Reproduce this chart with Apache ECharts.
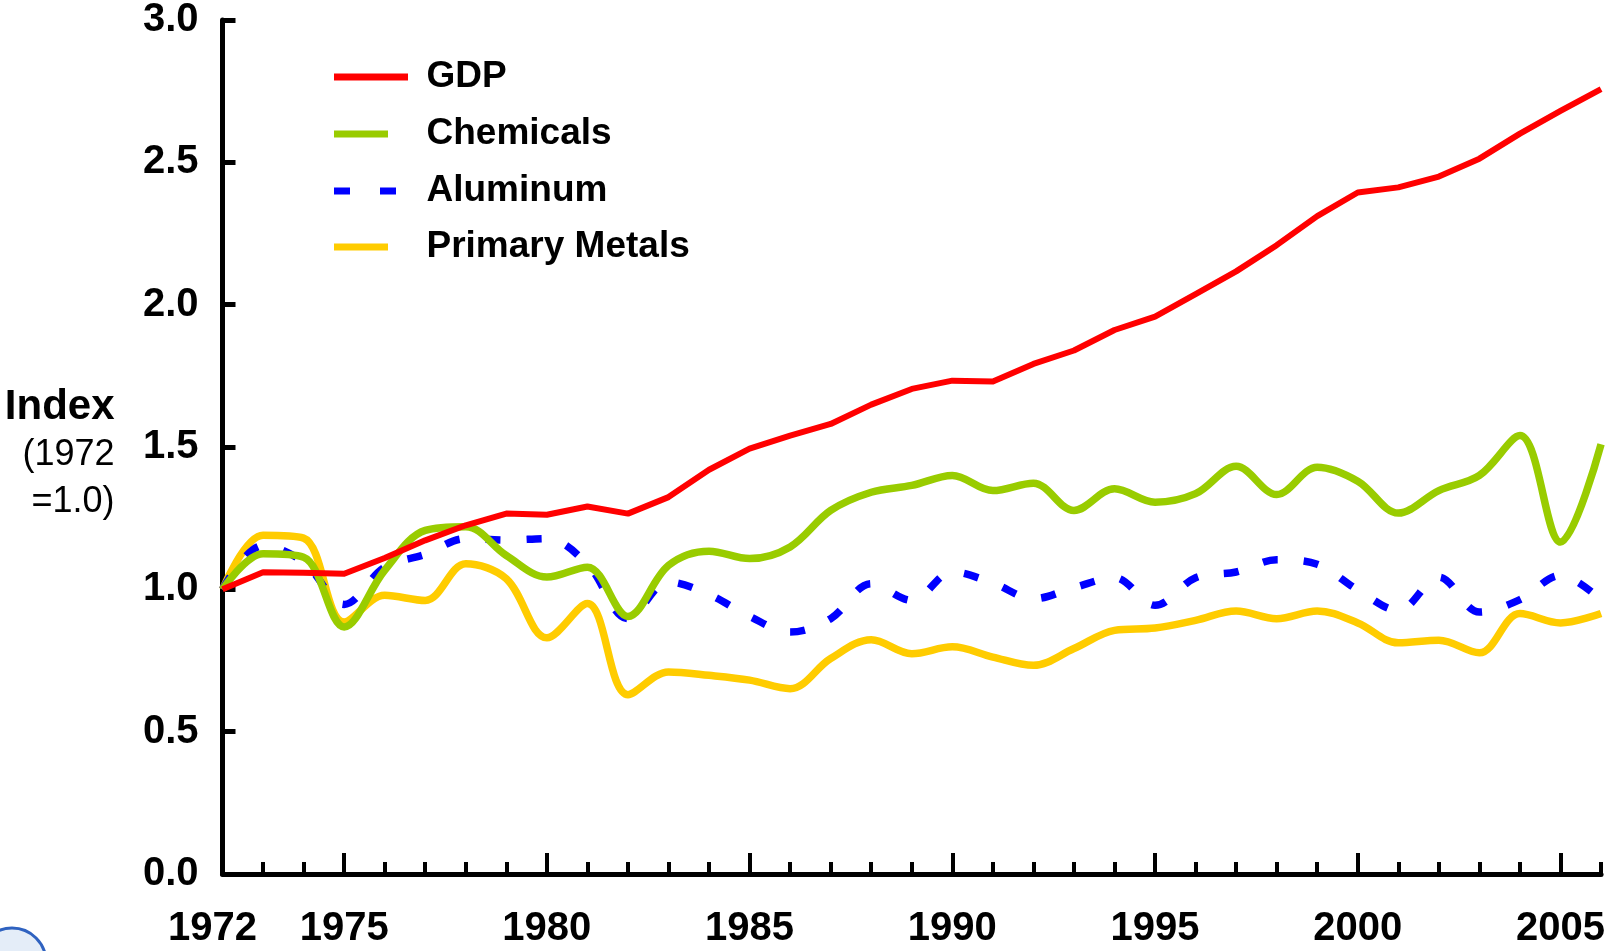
<!DOCTYPE html>
<html>
<head>
<meta charset="utf-8">
<script src="https://cdn.jsdelivr.net/npm/echarts@6/dist/echarts.min.js"></script>
<style>
  html, body { margin: 0; padding: 0; background: #fff; }
  #chart { width: 1608px; height: 951px; }
</style>
</head>
<body>
<div id="chart"></div>
<script>
// ---- data ----
const years = [1972,1973,1974,1975,1976,1977,1978,1979,1980,1981,1982,1983,1984,1985,1986,1987,1988,1989,1990,1991,1992,1993,1994,1995,1996,1997,1998,1999,2000,2001,2002,2003,2004,2005,2006];
const gdp = [1.00,1.06,1.058,1.055,1.11,1.172,1.225,1.266,1.262,1.291,1.266,1.324,1.42,1.494,1.54,1.581,1.649,1.704,1.733,1.73,1.792,1.839,1.911,1.958,2.037,2.117,2.209,2.311,2.394,2.412,2.45,2.513,2.601,2.681,2.757];
const chemicals = [1.00,1.125,1.113,0.868,1.067,1.207,1.22,1.119,1.043,1.078,0.905,1.084,1.134,1.108,1.149,1.277,1.341,1.365,1.40,1.347,1.373,1.277,1.353,1.306,1.336,1.432,1.333,1.429,1.38,1.268,1.347,1.40,1.54,1.166,1.51];
const aluminum = [1.00,1.154,1.096,0.947,1.078,1.123,1.178,1.173,1.178,1.088,0.897,1.026,0.982,0.905,0.85,0.897,1.02,0.961,1.061,1.022,0.967,1.006,1.041,0.944,1.041,1.061,1.104,1.088,0.998,0.926,1.043,0.92,0.964,1.049,0.962];
const primaryMetals = [1.00,1.19,1.18,0.885,0.979,0.961,1.09,1.037,0.83,0.95,0.63,0.71,0.698,0.681,0.651,0.757,0.823,0.774,0.798,0.762,0.733,0.792,0.856,0.864,0.891,0.924,0.897,0.924,0.882,0.812,0.821,0.777,0.915,0.882,0.915];
const seriesNames = ['GDP', 'Chemicals', 'Aluminum', 'Primary Metals'];
const xLabelYears = [1972,1975,1980,1985,1990,1995,2000,2005];
const xMajorTickYears = [1975,1980,1985,1990,1995,2000,2005];

// ---- styling / layout ----
const FONT = '"Liberation Sans", Arial, sans-serif';
const colors = ['#FF0000', '#99CC00', '#0000FF', '#FFCC00'];
const lineWidths = [6, 7.5, 7.5, 7.5];
const lineTypes = ['solid', 'solid', [15, 26], 'solid'];
const smoothness = [false, 0.35, 0.35, 0.35];
const legendRowCenters = [77, 134, 191, 247];
const legendIconWidths = [74, 54, 62, 54];
const legendIcons = ['rect', 'rect', 'path://M0,0h16v7h-16z M46,0h16v7h-16z', 'rect'];
const legendLeft = 334, legendTextX = 426.5;

const seriesData = [gdp, chemicals, aluminum, primaryMetals];

const chart = echarts.init(document.getElementById('chart'), null, { renderer: 'canvas' });

const xLabelStyle = { fontSize: 40, fontWeight: 'bold', color: '#000', fontFamily: FONT };

const option = {
  animation: false,
  backgroundColor: '#fff',
  grid: { left: 222.5, right: 6.5, top: 18.5, bottom: 77, containLabel: false },
  legend: seriesNames.map((name, i) => ({
    data: [name],
    left: legendLeft,
    top: legendRowCenters[i] - 20,
    padding: 0,
    itemWidth: legendIconWidths[i],
    itemHeight: 7,
    icon: legendIcons[i],
    selectedMode: false,
    textStyle: {
      fontSize: 37, fontWeight: 'bold', color: '#000', fontFamily: FONT,
      lineHeight: 40,
      padding: [0, 0, 0, legendTextX - (legendLeft + legendIconWidths[i] + 5)]
    }
  })),
  xAxis: [{
    type: 'value', min: 1972, max: 2006, interval: 1,
    axisLine: { show: true, onZero: false, lineStyle: { color: '#000', width: 5 } },
    axisTick: { show: true, inside: true, length: 12, lineStyle: { color: '#000', width: 4 } },
    axisLabel: Object.assign({
      customValues: xLabelYears,
      formatter: v => (v === xLabelYears[0] ? '{first|' + v + '}' : String(v)),
      margin: 35,
      rich: { first: Object.assign({ padding: [0, 20, 0, 0] }, xLabelStyle) }
    }, xLabelStyle),
    splitLine: { show: false }
  }, {
    type: 'value', min: 1972, max: 2006, position: 'bottom',
    axisLine: { show: false },
    axisTick: { show: true, inside: true, length: 21, customValues: xMajorTickYears, lineStyle: { color: '#000', width: 4 } },
    axisLabel: { show: false },
    splitLine: { show: false }
  }],
  yAxis: {
    type: 'value', min: 0, max: 3, interval: 0.5,
    axisLine: { show: true, onZero: false, lineStyle: { color: '#000', width: 5 } },
    axisTick: { show: true, inside: true, length: 13, lineStyle: { color: '#000', width: 5 } },
    axisLabel: {
      formatter: v => v.toFixed(1),
      fontSize: 40, fontWeight: 'bold', color: '#000', fontFamily: FONT, margin: 24
    },
    splitLine: { show: false },
    name: '{a|Index}\n{b|(1972}\n{b|=1.0)}',
    nameLocation: 'middle',
    nameRotate: 0,
    nameGap: 108,
    nameTextStyle: {
      align: 'right',
      padding: [15, 0, 0, 0],
      rich: {
        a: { fontSize: 42, fontWeight: 'bold', color: '#000', fontFamily: FONT, lineHeight: 48, align: 'right' },
        b: { fontSize: 36, color: '#000', fontFamily: FONT, lineHeight: 47, align: 'right' }
      }
    }
  },
  series: seriesNames.map((name, i) => ({
    name: name,
    type: 'line',
    data: years.map((y, k) => [y, seriesData[i][k]]),
    color: colors[i],
    smooth: smoothness[i],
    symbol: 'none',
    lineStyle: { color: colors[i], width: lineWidths[i], type: lineTypes[i], cap: 'butt', join: 'round' },
    z: 10 - i,
    clip: false
  })),
  graphic: [{
    type: 'circle',
    shape: { cx: 12, cy: 962, r: 34 },
    style: { fill: '#e4edf8', stroke: '#2f62c0', lineWidth: 3 },
    silent: true
  }]
};

chart.setOption(option);
</script>
</body>
</html>
